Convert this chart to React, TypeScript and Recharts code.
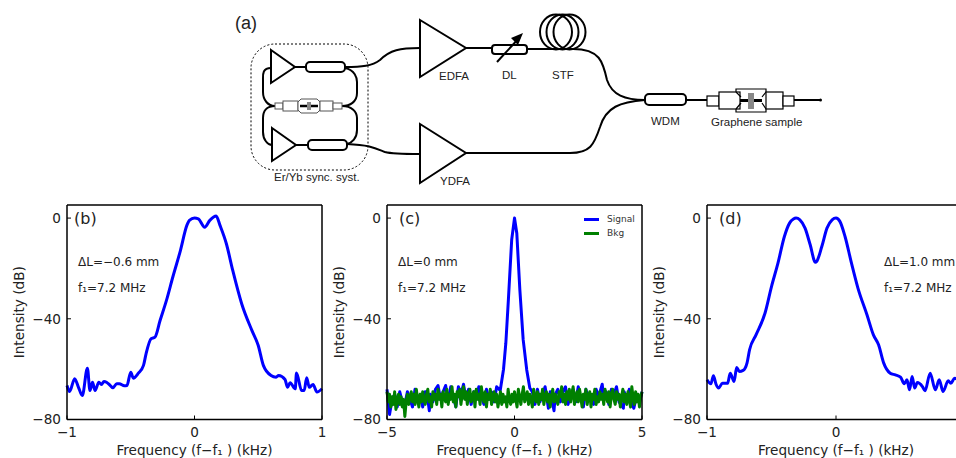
import { LineChart, Line, XAxis, YAxis, Legend } from 'recharts';

const FONT = '"DejaVu Sans", sans-serif';
const BLUE = '#0000ff';
const GREEN = '#008000';

const dbTicks = [0, -40, -80];
const narrowTicks = [-1, 0, 1];
const wideTicks = [-5, 0, 5];

// panel (b)
const freqB = [
  -1, -0.98, -0.94, -0.91, -0.88, -0.84, -0.82, -0.8, -0.78, -0.75, -0.73, -0.71, -0.69, -0.66, -0.64, -0.61, -0.59, -0.55, -0.53, -0.5,
  -0.48, -0.44, -0.4, -0.38, -0.34, -0.31, -0.27, -0.22, -0.17, -0.11, -0.06, -0.04, 0, 0.03, 0.08, 0.12, 0.17, 0.2, 0.25, 0.3,
  0.37, 0.45, 0.5, 0.54, 0.6, 0.64, 0.66, 0.71, 0.73, 0.75, 0.79, 0.8, 0.84, 0.86, 0.88, 0.9, 0.93, 0.96, 1,
];
const levelB = [
  -66.5, -68.9, -63.8, -67.2, -70.5, -59.6, -68.5, -65.2, -68.5, -65.2, -66.1, -64.9, -65.2, -66.5, -67.4, -65.8, -65.8, -66.6, -66.5, -61.2,
  -63.6, -61.6, -58.5, -53.9, -47.9, -47.3, -40.7, -32.7, -23.4, -12.8, -2.9, -0.9, 0, -0.3, -3.6, -0.9, 0.8, -2.9, -10.2, -20.8,
  -34, -44.6, -50.6, -58.5, -62.5, -63.2, -62.5, -64.1, -67.2, -65.4, -67.8, -61.5, -68.5, -68.5, -63.4, -67.2, -66.1, -69.1, -67.8,
];

// panel (c)
const freqSignal = [
  -5, -4.9, -4.8, -4.7, -4.6, -4.5, -4.4, -4.3, -4.2, -4.1, -4, -3.9, -3.8, -3.7, -3.6, -3.5, -3.4, -3.34, -3.3, -3.2,
  -3.1, -3, -2.9, -2.8, -2.7, -2.6, -2.5, -2.4, -2.3, -2.2, -2.1, -2, -1.9, -1.8, -1.7, -1.6, -1.5, -1.4, -1.3, -1.2,
  -1.1, -1, -0.9, -0.8, -0.7, -0.56, -0.43, -0.34, -0.24, -0.11, 0, 0.09, 0.21, 0.34, 0.48, 0.6, 0.7, 0.8, 0.9, 1,
  1.1, 1.2, 1.33, 1.4, 1.55, 1.6, 1.7, 1.8, 1.9, 2, 2.1, 2.2, 2.3, 2.4, 2.5, 2.6, 2.7, 2.8, 2.9, 3,
  3.1, 3.2, 3.3, 3.44, 3.5, 3.6, 3.7, 3.8, 3.9, 4, 4.1, 4.27, 4.3, 4.4, 4.5, 4.6, 4.68, 4.8, 4.9, 5,
];
const levelSignal = [
  -68, -78, -72, -70, -75, -69, -73, -74, -69, -72, -75, -68, -73, -70, -75, -69, -72, -76.5, -70, -73,
  -68, -66.5, -72, -69, -66.5, -73, -67, -71, -75, -67, -70, -66, -72, -68, -74, -69, -72, -67, -71, -74,
  -68, -72, -69, -73, -67, -68.5, -60, -49.7, -32.5, -8.6, 0, -6, -28.5, -48.3, -60.3, -67.5, -69, -74, -68, -73,
  -70, -67, -75.5, -69, -76.5, -70, -68, -73, -69, -67, -74, -70, -68, -73, -67, -72, -75, -68, -72, -70,
  -74, -68, -71, -66, -72, -69, -74, -68, -70, -67, -73, -75.5, -69, -72, -68, -74, -75.5, -70, -73, -69,
];
const freqBkg = [
  -5, -4.95, -4.9, -4.85, -4.8, -4.75, -4.7, -4.65, -4.6, -4.55, -4.5, -4.45, -4.4, -4.35, -4.3, -4.25, -4.2, -4.15, -4.1, -4.05,
  -4, -3.95, -3.9, -3.85, -3.8, -3.75, -3.7, -3.65, -3.6, -3.55, -3.5, -3.45, -3.4, -3.35, -3.3, -3.25, -3.2, -3.15, -3.1, -3.05,
  -3, -2.95, -2.9, -2.85, -2.8, -2.75, -2.7, -2.65, -2.6, -2.55, -2.5, -2.45, -2.4, -2.35, -2.3, -2.25, -2.2, -2.15, -2.1, -2.05,
  -2, -1.95, -1.9, -1.85, -1.8, -1.75, -1.7, -1.65, -1.6, -1.55, -1.5, -1.45, -1.4, -1.35, -1.3, -1.25, -1.2, -1.15, -1.1, -1.05,
  -1, -0.95, -0.9, -0.85, -0.8, -0.75, -0.7, -0.65, -0.6, -0.55, -0.5, -0.45, -0.4, -0.35, -0.3, -0.25, -0.2, -0.15, -0.1, -0.05,
  0, 0.05, 0.1, 0.15, 0.2, 0.25, 0.3, 0.35, 0.4, 0.45, 0.5, 0.55, 0.6, 0.65, 0.7, 0.75, 0.8, 0.85, 0.9, 0.95,
  1, 1.05, 1.1, 1.15, 1.2, 1.25, 1.3, 1.35, 1.4, 1.45, 1.5, 1.55, 1.6, 1.65, 1.7, 1.75, 1.8, 1.85, 1.9, 1.95,
  2, 2.05, 2.1, 2.15, 2.2, 2.25, 2.3, 2.35, 2.4, 2.45, 2.5, 2.55, 2.6, 2.65, 2.7, 2.75, 2.8, 2.85, 2.9, 2.95,
  3, 3.05, 3.1, 3.15, 3.2, 3.25, 3.3, 3.35, 3.4, 3.45, 3.5, 3.55, 3.6, 3.65, 3.7, 3.75, 3.8, 3.85, 3.9, 3.95,
  4, 4.05, 4.1, 4.15, 4.2, 4.25, 4.3, 4.35, 4.4, 4.45, 4.5, 4.55, 4.6, 4.65, 4.7, 4.75, 4.8, 4.85, 4.9, 4.95, 5,
];
const levelBkg = [
  -69, -73, -70, -75, -71, -74, -69, -76, -72, -70, -74, -71, -75, -72, -78.8, -73, -70, -74, -71, -69,
  -73, -70, -74, -68, -72, -75, -70, -73, -69, -72, -74, -70, -68, -73, -71, -75, -69, -72, -70, -74,
  -68, -72, -70, -75, -69, -71, -73, -68, -74, -70, -72, -67, -73, -70, -75, -69, -71, -68, -74, -70,
  -67, -72, -69, -74, -70, -68, -73, -71, -69, -75, -68, -72, -70, -74, -67, -71, -73, -69, -75, -70,
  -72, -68, -74, -71, -69, -73, -70, -75, -72, -69, -74, -70, -73, -71, -75, -68, -72, -74, -70, -73,
  -69, -72, -75, -68, -71, -74, -70, -67, -73, -71, -69, -74, -70, -72, -75, -68, -71, -73, -69, -74,
  -70, -72, -68, -74, -71, -69, -73, -70, -75, -71, -68, -73, -70, -72, -74, -69, -71, -67, -73, -70,
  -74, -69, -72, -68, -73, -70, -67, -74, -71, -69, -73, -68, -71, -75, -70, -72, -68, -74, -71, -69,
  -75, -70, -72, -68, -74, -71, -73, -69, -72, -70, -74, -68, -71, -73, -69, -75, -70, -68, -72, -74,
  -69, -72, -70, -75, -71, -68, -73, -70, -74, -69, -72, -75, -67, -71, -74, -69, -73, -70, -75, -71, -69,
];

// panel (d), the right side runs off the page
const freqD = [
  -1, -0.97, -0.95, -0.93, -0.91, -0.88, -0.84, -0.82, -0.79, -0.77, -0.75, -0.72, -0.69, -0.67, -0.62, -0.55, -0.5, -0.45, -0.4, -0.36,
  -0.33, -0.31, -0.28, -0.24, -0.2, -0.16, -0.15, -0.11, -0.07, -0.03, 0, 0.03, 0.07, 0.12, 0.17, 0.24, 0.29, 0.33, 0.37, 0.42,
  0.46, 0.5, 0.53, 0.55, 0.57, 0.59, 0.61, 0.63, 0.67, 0.69, 0.73, 0.77, 0.8, 0.83, 0.87, 0.89, 0.92, 0.93, 0.97, 1,
];
const levelD = [
  -64.2, -65.8, -62.6, -66, -67.5, -65.6, -65.6, -61.6, -64.9, -59.3, -60.9, -60.5, -57.6, -52.3, -46.4, -37.7, -27.2, -17.9, -7.3, -2,
  -0.4, 0, -0.7, -4, -10.6, -17.5, -17.2, -11.3, -4, -0.7, 0, -1.3, -7.3, -17.9, -27.8, -38.4, -46.4, -50.3, -57.6, -61.6,
  -62.3, -63.2, -65.8, -64.2, -68.2, -62.9, -67.5, -65.3, -66.9, -68.6, -61.6, -68.2, -64.2, -68.9, -64.6, -65.6, -63.6, -63.8, -63, -64,
];

const zip = (f: number[], v: number[]) => f.map((x, i) => ({ f: x, v: v[i] }));
const minus = (v: number) => String(v).replace('-', '\u2212');

type Trace = { name: string; color: string; rows: { f: number; v: number }[] };

type PanelProps = {
  left: number;
  plotWidth: number;
  xTicks: number[];
  tag: string;
  tagX: number;
  notes: string[];
  noteX: number;
  traces: Trace[];
  curve?: 'linear' | 'monotone';
  showLegend?: boolean;
  offPage?: boolean;
};

function LegendRows({ payload }: { payload?: { value?: string; color?: string }[] }) {
  return (
    <div style={{ fontFamily: FONT, fontSize: 9, color: '#333', lineHeight: '14px' }}>
      {(payload ?? []).map(p => (
        <div key={p.value} style={{ display: 'flex', alignItems: 'center', height: 14 }}>
          <span style={{ display: 'inline-block', width: 15, height: 3, background: p.color, marginRight: 8 }} />
          {p.value}
        </div>
      ))}
    </div>
  );
}

function Panel({ left, plotWidth, xTicks, tag, tagX, notes, noteX, traces, curve = 'monotone', showLegend, offPage }: PanelProps) {
  const domainX: [number, number] = [xTicks[0], xTicks[2]];
  const domainY: [number, number] = [-80, 5.2];
  const tickStyle = { fontSize: 13.6, fontFamily: FONT, fill: '#222' };
  const axisLine = { stroke: '#000', strokeWidth: 1.5 };
  const tickLine = { stroke: '#000', strokeWidth: 1 };
  // the last x label of (d) would land past the page edge, the reference has none
  const xLabel = (v: number) => (offPage && v === xTicks[2] ? '' : minus(v));
  return (
    <div style={{ position: 'absolute', left, top: 200 }}>
      <LineChart width={60 + plotWidth + 12} height={258} margin={{ top: 5, right: 12, bottom: 0, left: 0 }}>
        <XAxis
          dataKey="f" type="number" xAxisId="main" domain={domainX} ticks={xTicks} height={38.5}
          tickFormatter={xLabel} tick={tickStyle} axisLine={axisLine} tickLine={tickLine}
          tickSize={-4} tickMargin={12} interval={0}
          label={{ value: 'Frequency (f\u2212f\u2081 ) (kHz)', position: 'insideBottom', offset: 3, style: { fontSize: 13.6, fontFamily: FONT, fill: '#222' } }}
        />
        <XAxis
          type="number" xAxisId="top" orientation="top" domain={domainX} ticks={xTicks} height={1}
          mirror tick={false} axisLine={axisLine} tickLine={tickLine} tickSize={4} interval={0}
        />
        <YAxis
          type="number" yAxisId="main" domain={domainY} ticks={dbTicks} width={60}
          tickFormatter={minus} tick={tickStyle} axisLine={axisLine} tickLine={tickLine}
          tickSize={-4} tickMargin={10} interval={0} allowDataOverflow
          label={{ value: 'Intensity (dB)', angle: -90, position: 'insideLeft', offset: 12, style: { fontSize: 13.6, fontFamily: FONT, fill: '#222', textAnchor: 'middle' } }}
        />
        <YAxis
          type="number" yAxisId="right" orientation="right" domain={domainY} ticks={dbTicks} width={1}
          mirror tick={false} axisLine={axisLine} tickLine={tickLine} tickSize={4} interval={0}
        />
        {traces.map(t => (
          <Line
            key={t.name} name={t.name} data={t.rows} dataKey="v" xAxisId="main" yAxisId="main"
            stroke={t.color} strokeWidth={3} dot={false} type={curve} isAnimationActive={false}
            strokeLinejoin="round"
          />
        ))}
        {showLegend && (
          <Legend
            layout="vertical" align="center" verticalAlign="middle" itemSorter={null}
            wrapperStyle={{ left: 257, top: 12, width: 60, height: 30 }}
            content={(p: any) => <LegendRows payload={p.payload} />}
          />
        )}
        <text x={tagX} y={23.5} fontFamily={FONT} fontSize={16} fill="#222">{tag}</text>
        {notes.map((n, i) => (
          <text key={n} x={noteX} y={66 + i * 26} fontFamily={FONT} fontSize={12} fill="#222">{n}</text>
        ))}
      </LineChart>
    </div>
  );
}

function Schematic() {
  const fiber = { fill: 'none', stroke: '#000', strokeWidth: 2 };
  const label = { fontFamily: '"Liberation Sans", Arial, sans-serif', fontSize: 11.5, fill: '#222' };
  const thin = { fill: '#fff', stroke: '#555', strokeWidth: 1 };
  const thick = { fill: '#fff', stroke: '#000', strokeWidth: 1.2 };
  return (
    <svg width={956} height={200} style={{ position: 'absolute', left: 0, top: 0 }}>
      <text x={235} y={29} fontFamily={label.fontFamily} fontSize={18} fill="#222">(a)</text>
      <rect x={251} y={44} width={117} height={126} rx={24} fill="none" stroke="#000" strokeWidth={1} strokeDasharray="2 2" />

      <path d="M271 50 L295 67 L271 83 Z" {...fiber} fill="#fff" />
      <path d="M272 128 L296 145 L272 161 Z" {...fiber} fill="#fff" />
      <path d="M295 67 H306 M296 145 H308" {...fiber} />
      <rect x={306} y={62} width={39} height={10} rx={4} {...fiber} fill="#fff" />
      <rect x={308} y={140} width={39} height={10} rx={4} {...fiber} fill="#fff" />
      <path d="M271 68 C262 68 263 75 263 80 L263 92 C263 100 268 106 275 106" {...fiber} />
      <path d="M345 68 C355 70 357 78 357 82 L357 93 C357 102 350 106 342 106" {...fiber} />
      <path d="M275 106 C266 106 263 112 263 118 L263 132 C263 140 268 145 272 145" {...fiber} />
      <path d="M342 106 C352 106 357 112 357 118 L357 130 C357 138 352 143 347 144" {...fiber} />
      <rect x={275} y={103} width={8} height={6} {...thin} />
      <rect x={283} y={101} width={15} height={10} {...thin} />
      <path d="M298 102 L301 99 H317 L320 102 V110 L317 113 H301 L298 110 Z" {...thin} />
      <rect x={320} y={101} width={13} height={10} {...thin} />
      <rect x={333} y={103} width={9} height={6} {...thin} />
      <path d="M300 106 H318" stroke="#000" strokeWidth={2.5} />
      <rect x={307} y={102} width={4} height={8} fill="#888" />

      <path d="M345 67 C362 67 372 66 380 60 C390 50 400 48 420 48" {...fiber} />
      <path d="M347 144 C370 145 375 148 385 152 C392 154 405 154 420 154" {...fiber} />
      <path d="M420 20 L466 48 L420 77 Z" {...fiber} fill="#fff" />
      <path d="M420 124 L466 153 L420 183 Z" {...fiber} fill="#fff" />
      <path d="M466 48 H492 M527 49 H573 C600 49 603 62 607 80 C612 95 625 100 645 100" {...fiber} />
      <path d="M466 153 H570 C590 153 594 145 600 127 C606 107 620 102 645 100" {...fiber} />
      <rect x={492} y={45} width={35} height={9} rx={3} {...fiber} fill="#fff" />
      <path d="M497 62 L520 37" {...fiber} />
      <path d="M523 33 L518 45 L511 38 Z" fill="#000" />

      <ellipse cx={556} cy={32} rx={16} ry={17.5} {...fiber} />
      <ellipse cx={562.5} cy={32} rx={16} ry={17.5} {...fiber} />
      <ellipse cx={569.5} cy={32} rx={16} ry={17.5} {...fiber} />

      <rect x={645} y={94} width={41} height={11} rx={4} {...fiber} fill="#fff" />
      <path d="M686 100 H707 M794 100 H820" {...fiber} />
      <circle cx={820.5} cy={100} r={1.5} fill="#000" />
      <rect x={707} y={96} width={12} height={10} {...thick} />
      <rect x={719} y={92} width={21} height={17} {...thick} />
      <path d="M736 92 L736 89 H766 V92 L762 97 M736 109 V112 H766 V109 L762 103 M736 92 L741 97 M736 109 L741 103" {...thick} fill="none" />
      <rect x={766} y={92} width={17} height={17} {...thick} />
      <rect x={783} y={96} width={11} height={10} {...thick} />
      <path d="M740 100.5 H762" stroke="#000" strokeWidth={3} />
      <rect x={748} y={93} width={6} height={16} fill="#888" />

      <text x={439} y={80} {...label}>EDFA</text>
      <text x={502} y={79} {...label}>DL</text>
      <text x={552} y={79} {...label}>STF</text>
      <text x={651} y={125} {...label}>WDM</text>
      <text x={711} y={126} {...label}>Graphene sample</text>
      <text x={440} y={185} {...label}>YDFA</text>
      <text x={274} y={181} {...label}>Er/Yb sync. syst.</text>
    </svg>
  );
}

export default function App() {
  return (
    <div style={{ position: 'fixed', left: 0, top: 0, width: 956, height: 458, overflow: 'hidden', background: '#fff' }}>
      <Schematic />
      <Panel
        left={7} plotWidth={255} xTicks={narrowTicks} tag="(b)" tagX={67} noteX={71}
        notes={['\u0394L=\u22120.6 mm', 'f\u2081=7.2 MHz']}
        traces={[{ name: 'Signal', color: BLUE, rows: zip(freqB, levelB) }]}
      />
      <Panel
        left={327} plotWidth={255} xTicks={wideTicks} tag="(c)" tagX={72} noteX={71} showLegend curve="linear"
        notes={['\u0394L=0 mm', 'f\u2081=7.2 MHz']}
        traces={[
          { name: 'Signal', color: BLUE, rows: zip(freqSignal, levelSignal) },
          { name: 'Bkg', color: GREEN, rows: zip(freqBkg, levelBkg) },
        ]}
      />
      <Panel
        left={647} plotWidth={258} xTicks={narrowTicks} tag="(d)" tagX={72} noteX={237} offPage
        notes={['\u0394L=1.0 mm', 'f\u2081=7.2 MHz']}
        traces={[{ name: 'Signal', color: BLUE, rows: zip(freqD, levelD) }]}
      />
    </div>
  );
}
